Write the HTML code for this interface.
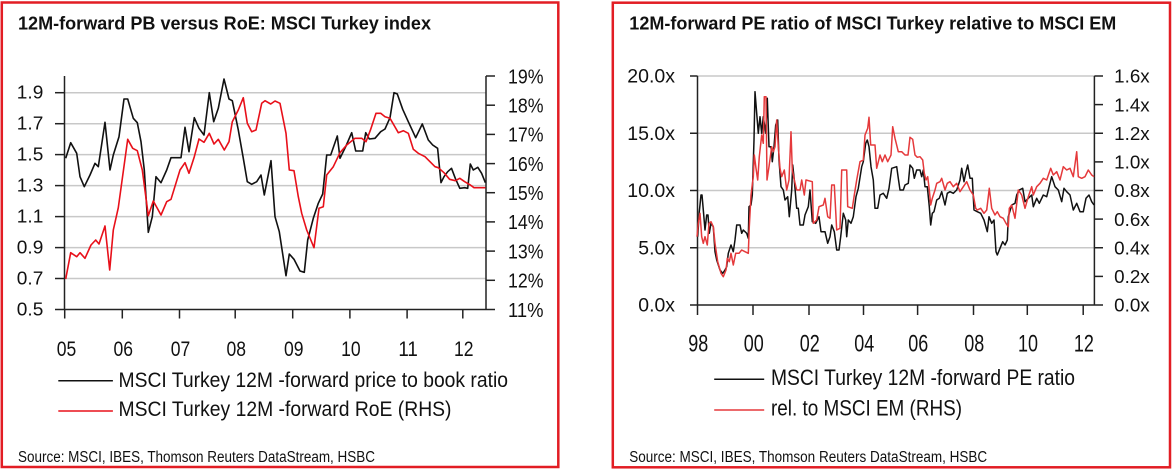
<!DOCTYPE html>
<html><head><meta charset="utf-8"><style>
html,body{margin:0;padding:0;background:#fff;}
svg{display:block;}
text{font-family:"Liberation Sans",Arial,sans-serif;fill:#111;}
</style></head><body>
<svg width="1175" height="473" viewBox="0 0 1175 473" xmlns="http://www.w3.org/2000/svg">
<rect width="1175" height="473" fill="#fff"/>
<!-- LEFT PANEL -->
<rect x="1.8" y="2.5" width="556.5" height="464.5" fill="none" stroke="#e21d24" stroke-width="2.5"/>
<text x="18" y="29.5" font-size="18.5" font-weight="bold" textLength="413" lengthAdjust="spacingAndGlyphs">12M-forward PB versus RoE: MSCI Turkey index</text>
<g stroke="#c8c8c8" stroke-width="1.5">
<line x1="64.5" y1="278.5" x2="486" y2="278.5"/>
<line x1="64.5" y1="247.6" x2="486" y2="247.6"/>
<line x1="64.5" y1="216.6" x2="486" y2="216.6"/>
<line x1="64.5" y1="185.6" x2="486" y2="185.6"/>
<line x1="64.5" y1="154.6" x2="486" y2="154.6"/>
<line x1="64.5" y1="123.7" x2="486" y2="123.7"/>
<line x1="64.5" y1="92.7" x2="486" y2="92.7"/>
</g>
<g stroke="#222" stroke-width="1.5">
<line x1="55" y1="278.5" x2="64.5" y2="278.5"/>
<line x1="55" y1="247.6" x2="64.5" y2="247.6"/>
<line x1="55" y1="216.6" x2="64.5" y2="216.6"/>
<line x1="55" y1="185.6" x2="64.5" y2="185.6"/>
<line x1="55" y1="154.6" x2="64.5" y2="154.6"/>
<line x1="55" y1="123.7" x2="64.5" y2="123.7"/>
<line x1="55" y1="92.7" x2="64.5" y2="92.7"/>
<line x1="64.5" y1="76" x2="64.5" y2="309.5"/>
<line x1="486" y1="76" x2="486" y2="309.5"/>
<line x1="55" y1="309.5" x2="495" y2="309.5"/>
<line x1="486" y1="76" x2="495" y2="76"/>
<line x1="486" y1="105.2" x2="495" y2="105.2"/>
<line x1="486" y1="134.4" x2="495" y2="134.4"/>
<line x1="486" y1="163.6" x2="495" y2="163.6"/>
<line x1="486" y1="192.7" x2="495" y2="192.7"/>
<line x1="486" y1="221.9" x2="495" y2="221.9"/>
<line x1="486" y1="251.1" x2="495" y2="251.1"/>
<line x1="486" y1="280.3" x2="495" y2="280.3"/>
<line x1="64.7" y1="309.5" x2="64.7" y2="318.5"/>
<line x1="122.3" y1="309.5" x2="122.3" y2="318.5"/>
<line x1="179.5" y1="309.5" x2="179.5" y2="318.5"/>
<line x1="235.2" y1="309.5" x2="235.2" y2="318.5"/>
<line x1="292.7" y1="309.5" x2="292.7" y2="318.5"/>
<line x1="349.9" y1="309.5" x2="349.9" y2="318.5"/>
<line x1="407.1" y1="309.5" x2="407.1" y2="318.5"/>
<line x1="462.8" y1="309.5" x2="462.8" y2="318.5"/>
</g>
<g font-size="18" text-anchor="end">
<text x="43.3" y="315.5" textLength="26.5" lengthAdjust="spacingAndGlyphs">0.5</text>
<text x="43.3" y="284.3" textLength="26.5" lengthAdjust="spacingAndGlyphs">0.7</text>
<text x="43.3" y="253.4" textLength="26.5" lengthAdjust="spacingAndGlyphs">0.9</text>
<text x="43.3" y="222.4" textLength="26.5" lengthAdjust="spacingAndGlyphs">1.1</text>
<text x="43.3" y="191.4" textLength="26.5" lengthAdjust="spacingAndGlyphs">1.3</text>
<text x="43.3" y="160.4" textLength="26.5" lengthAdjust="spacingAndGlyphs">1.5</text>
<text x="43.3" y="129.5" textLength="26.5" lengthAdjust="spacingAndGlyphs">1.7</text>
<text x="43.3" y="98.5" textLength="26.5" lengthAdjust="spacingAndGlyphs">1.9</text>
</g>
<g font-size="20">
<text x="508" y="83.3" textLength="35.5" lengthAdjust="spacingAndGlyphs">19%</text>
<text x="508" y="112.5" textLength="35.5" lengthAdjust="spacingAndGlyphs">18%</text>
<text x="508" y="141.7" textLength="35.5" lengthAdjust="spacingAndGlyphs">17%</text>
<text x="508" y="170.9" textLength="35.5" lengthAdjust="spacingAndGlyphs">16%</text>
<text x="508" y="200" textLength="35.5" lengthAdjust="spacingAndGlyphs">15%</text>
<text x="508" y="229.2" textLength="35.5" lengthAdjust="spacingAndGlyphs">14%</text>
<text x="508" y="258.4" textLength="35.5" lengthAdjust="spacingAndGlyphs">13%</text>
<text x="508" y="287.6" textLength="35.5" lengthAdjust="spacingAndGlyphs">12%</text>
<text x="508" y="316.8" textLength="35.5" lengthAdjust="spacingAndGlyphs">11%</text>
</g>
<g font-size="21" text-anchor="middle">
<text x="66.5" y="356" textLength="19.5" lengthAdjust="spacingAndGlyphs">05</text>
<text x="123.3" y="356" textLength="19.5" lengthAdjust="spacingAndGlyphs">06</text>
<text x="180.5" y="356" textLength="19.5" lengthAdjust="spacingAndGlyphs">07</text>
<text x="236.2" y="356" textLength="19.5" lengthAdjust="spacingAndGlyphs">08</text>
<text x="293.7" y="356" textLength="19.5" lengthAdjust="spacingAndGlyphs">09</text>
<text x="350.9" y="356" textLength="19.5" lengthAdjust="spacingAndGlyphs">10</text>
<text x="408.1" y="356" textLength="19.5" lengthAdjust="spacingAndGlyphs">11</text>
<text x="463.8" y="356" textLength="19.5" lengthAdjust="spacingAndGlyphs">12</text>
</g>
<polyline fill="none" stroke="#111" stroke-width="1.6" stroke-linejoin="round" points="65.7,158.3 70.7,142.7 76.7,153.3 80,176.7 84.3,186.7 90,175 95,163.3 98.3,166.7 105,122.3 110,170 113.3,155 119,136.7 124,99 127.7,99 133.3,118.3 137.3,122.7 141,141.7 144.3,170 148.3,232.3 152.3,216.7 156,176.7 161,182.7 166.7,170 171,157.7 181,157.7 185,127.3 189,151.7 194.3,117.7 199,128.3 204,135 209.3,92.7 213.7,121.7 218.3,108.3 224,79 229,99 232.3,100.7 238.3,130 243.3,158.3 247.3,181.7 251.7,184.3 256.7,181.7 261,175 264.3,195 271,160.7 275,216.7 279.3,231.7 286,275.7 289.3,254 294,259.3 300,271 304.3,272.3 307.7,240 313.3,218.3 318.3,203.3 322.7,194 326.7,155 330.7,155 337.3,136 340,158.3 346,146 351.7,132.7 355.7,151 362.7,151 365.7,132.7 369.3,139 375,138.3 380.7,131.7 385,129 390,117.7 394,92.7 397.3,94 402.7,109.3 408.3,121.7 415.7,137.7 422.3,124 428.3,140 432.7,145 437.6,148.3 441,182.7 444,176.7 447.7,171.7 451.5,168.3 455.3,178.3 459.8,188.3 464.7,187.7 467.7,188.3 470.3,164 473.3,170 477.8,167.3 481.6,173.3 485.4,182.7"/>
<polyline fill="none" stroke="#e8101a" stroke-width="1.6" stroke-linejoin="round" points="65.7,279 70.7,252.7 76.7,256.7 80,252.7 85,258.3 91,245 95.7,240 99,244 105,226 109.7,270 113.3,230 118.3,207.7 127.7,139.3 132.7,148.3 137.3,150.7 142.3,170 148.3,215.7 153.3,201 161,215 166.7,201.7 171,199.3 180,170 185,162.7 189,173.3 194.3,156.7 199,139 204,142.3 209.3,133.3 214,144 218.3,139.3 224.3,150 229,141.7 232.3,121.7 238.3,110 243.3,97.7 247.3,123.3 251.7,131.7 256,130 261.7,103.3 265,100.7 270.7,104 275,101 280,103.3 286,133.3 289.3,170 294,170.7 298.3,196.7 301.7,213.3 306.7,230 314,247.7 319,208.3 323.3,206.7 326.7,175 333.3,166.7 340,152.7 346.7,145 355,138.3 361.7,138.3 366,141.7 370.7,129.3 376,113.3 380.7,113.3 385,116.7 390,118.3 398.3,132.7 403.3,130.7 408.3,133.3 413.3,149.3 418.3,153.3 425,156.7 430,161.7 435,166.7 438.3,167.7 444,172.7 449.6,179.3 455.3,180.7 459.8,178.3 464.7,181.7 470.3,185 474,187.7 485.4,187.7"/>
<line x1="58.3" y1="380.7" x2="112.9" y2="380.7" stroke="#111" stroke-width="1.5"/>
<line x1="58.3" y1="411" x2="112.9" y2="411" stroke="#e8101a" stroke-width="1.5"/>
<text x="118.5" y="387" font-size="21" textLength="389.5" lengthAdjust="spacingAndGlyphs">MSCI Turkey  12M -forward price to book ratio</text>
<text x="118.5" y="416" font-size="21" textLength="333" lengthAdjust="spacingAndGlyphs">MSCI Turkey  12M -forward RoE (RHS)</text>
<text x="18" y="462" font-size="15.5" textLength="357" lengthAdjust="spacingAndGlyphs">Source: MSCI, IBES, Thomson Reuters DataStream, HSBC</text>

<!-- RIGHT PANEL -->
<rect x="612.8" y="2.7" width="557.2" height="464.6" fill="none" stroke="#e21d24" stroke-width="2.5"/>
<text x="629.3" y="29.5" font-size="18.5" font-weight="bold" textLength="487" lengthAdjust="spacingAndGlyphs">12M-forward PE ratio of MSCI Turkey relative to MSCI EM</text>
<g stroke="#c8c8c8" stroke-width="1.5">
<line x1="697.5" y1="76" x2="1094.4" y2="76"/>
<line x1="697.5" y1="133.25" x2="1094.4" y2="133.25"/>
<line x1="697.5" y1="190.5" x2="1094.4" y2="190.5"/>
<line x1="697.5" y1="247.75" x2="1094.4" y2="247.75"/>
</g>
<g stroke="#222" stroke-width="1.5">
<line x1="697.5" y1="76" x2="697.5" y2="305"/>
<line x1="1094.4" y1="76" x2="1094.4" y2="305"/>
<line x1="690" y1="305" x2="1103" y2="305"/>
<line x1="690" y1="76" x2="697.5" y2="76"/>
<line x1="690" y1="133.25" x2="697.5" y2="133.25"/>
<line x1="690" y1="190.5" x2="697.5" y2="190.5"/>
<line x1="690" y1="247.75" x2="697.5" y2="247.75"/>
<line x1="1094.4" y1="76" x2="1103" y2="76"/>
<line x1="1094.4" y1="104.6" x2="1103" y2="104.6"/>
<line x1="1094.4" y1="133.25" x2="1103" y2="133.25"/>
<line x1="1094.4" y1="161.9" x2="1103" y2="161.9"/>
<line x1="1094.4" y1="190.5" x2="1103" y2="190.5"/>
<line x1="1094.4" y1="219.1" x2="1103" y2="219.1"/>
<line x1="1094.4" y1="247.75" x2="1103" y2="247.75"/>
<line x1="1094.4" y1="276.4" x2="1103" y2="276.4"/>
<line x1="697.5" y1="305" x2="697.5" y2="315"/>
<line x1="753" y1="305" x2="753" y2="315"/>
<line x1="809" y1="305" x2="809" y2="315"/>
<line x1="863.5" y1="305" x2="863.5" y2="315"/>
<line x1="917.6" y1="305" x2="917.6" y2="315"/>
<line x1="973.5" y1="305" x2="973.5" y2="315"/>
<line x1="1027.3" y1="305" x2="1027.3" y2="315"/>
<line x1="1083.2" y1="305" x2="1083.2" y2="315"/>
</g>
<g font-size="19" text-anchor="end">
<text x="675" y="82.7" textLength="47.7" lengthAdjust="spacingAndGlyphs">20.0x</text>
<text x="675" y="140" textLength="47.7" lengthAdjust="spacingAndGlyphs">15.0x</text>
<text x="675" y="197.2" textLength="47.7" lengthAdjust="spacingAndGlyphs">10.0x</text>
<text x="675" y="254.5" textLength="36.7" lengthAdjust="spacingAndGlyphs">5.0x</text>
<text x="675" y="311.7" textLength="36.7" lengthAdjust="spacingAndGlyphs">0.0x</text>
</g>
<g font-size="18.5">
<text x="1114.2" y="82.7" textLength="35.5" lengthAdjust="spacingAndGlyphs">1.6x</text>
<text x="1114.2" y="111.3" textLength="35.5" lengthAdjust="spacingAndGlyphs">1.4x</text>
<text x="1114.2" y="140" textLength="35.5" lengthAdjust="spacingAndGlyphs">1.2x</text>
<text x="1114.2" y="168.6" textLength="35.5" lengthAdjust="spacingAndGlyphs">1.0x</text>
<text x="1114.2" y="197.2" textLength="35.5" lengthAdjust="spacingAndGlyphs">0.8x</text>
<text x="1114.2" y="225.8" textLength="35.5" lengthAdjust="spacingAndGlyphs">0.6x</text>
<text x="1114.2" y="254.5" textLength="35.5" lengthAdjust="spacingAndGlyphs">0.4x</text>
<text x="1114.2" y="283.1" textLength="35.5" lengthAdjust="spacingAndGlyphs">0.2x</text>
<text x="1114.2" y="311.7" textLength="35.5" lengthAdjust="spacingAndGlyphs">0.0x</text>
</g>
<g font-size="24" text-anchor="middle">
<text x="698.2" y="351.7" textLength="20" lengthAdjust="spacingAndGlyphs">98</text>
<text x="753.7" y="351.7" textLength="20" lengthAdjust="spacingAndGlyphs">00</text>
<text x="809.7" y="351.7" textLength="20" lengthAdjust="spacingAndGlyphs">02</text>
<text x="864.2" y="351.7" textLength="20" lengthAdjust="spacingAndGlyphs">04</text>
<text x="918.3" y="351.7" textLength="20" lengthAdjust="spacingAndGlyphs">06</text>
<text x="974.2" y="351.7" textLength="20" lengthAdjust="spacingAndGlyphs">08</text>
<text x="1028" y="351.7" textLength="20" lengthAdjust="spacingAndGlyphs">10</text>
<text x="1083.9" y="351.7" textLength="20" lengthAdjust="spacingAndGlyphs">12</text>
</g>
<polyline fill="none" stroke="#111" stroke-width="1.5" stroke-linejoin="round" points="697.7,236.7 699.3,211.7 701,195 702,195 703.3,210 705,230 706.7,215 708,215 709.3,233.3 711,223.3 713.3,226.7 715,251.7 716.7,260 720,270 722.7,273.3 725,270 726.7,266.7 728.3,253.3 731,245 733.3,251.7 735,240 736.7,225 740,225 741.7,233.3 743.3,230 746.7,233.3 748.3,238.3 749,206.7 751,205 752.3,195 754,140 755,91.7 756.7,113.3 758.3,133.3 760,116.7 761.7,133.3 763.3,116.7 765.7,133.3 767.3,98.3 769,146.7 771,146.7 772.3,161.7 774,146.7 775.7,125 777.7,120 779,160 781,186.7 783.3,190 785,200 787.7,196.7 789.3,216.7 791.7,190 792.7,165 794.3,180 796.7,208.3 798.3,208.3 800,225 803.3,225 805,215 808.3,206.7 810,190 812.3,221.7 815.7,223.3 819,216.7 821,231.7 825,231.7 827.7,243.3 830,236.7 831.7,225 834.3,231.7 836.7,250 839,250 840.7,236.7 843.3,213.3 845.7,220 846.7,236.7 848.3,220 851,223.3 853.3,216.7 856,196.7 858.3,188.3 861.7,166.7 863.3,161.7 865.7,143.3 867.3,140 869,146.7 871,166.7 873.3,180 875,208.3 877.7,208.3 880,195 883.3,193.3 886.7,198.3 889,188.3 891.7,168.3 896.7,166.7 898.3,178.3 900,190 903.3,190 905,185 908.3,183.3 910,165 912.7,168.3 914.3,178.3 916.7,170 920,170 921.7,176.7 923.3,170 925,186.7 927.3,186.7 929.3,206.7 930.7,225 932.3,213.3 934,211.7 936.7,200 939.3,198.3 941.7,191.7 945,205 947.3,193.3 950,191.7 953.3,193.3 956.7,190 960,180 961.7,168.3 964,181.7 966,171.7 967.7,165 970,178.3 972.3,178.3 974,210 977.3,211.7 980.7,213.3 984,220 987.3,231.7 989,216.7 991.7,223.3 994,220 996,251.7 997.3,255 1000,248.3 1002.7,241.7 1005,245 1007.3,240 1008.3,216.7 1011.7,205 1015,203.3 1016.7,195 1019.3,190 1022.7,188.3 1025,201.7 1028.3,198.3 1031.7,195 1033.3,206.7 1036.7,198.3 1039.3,203.3 1043.3,195 1046.7,196.7 1050,183.3 1051.7,176.7 1055,186.7 1058.3,190 1061.7,201.7 1064,188.3 1066.7,191.7 1070,195 1073.3,210 1076.7,203.3 1080,211.7 1083.3,211.7 1086,198.3 1089,195 1091.7,201.7 1094,205"/>
<polyline fill="none" stroke="#e5393b" stroke-width="1.5" stroke-linejoin="round" points="697,236.7 698.3,223.3 700,213.3 701.7,236.7 703.3,243.3 705,236.7 707.3,245 709,223.3 711,221.7 713.3,226.7 715,243.3 717.7,261.7 721,273.3 723.3,276.7 726,270 727.3,258.3 729.3,261.7 731,253.3 733.3,265 735.7,253.3 739,253.3 741.7,250 745,251.7 748.3,253.3 749.3,226.7 751,195 753.3,176.7 754.3,155 756,168.3 757.7,180 759.3,156.7 761.7,135 763.3,143.3 764.3,96.7 766,96.7 767,180 769,166.7 771.7,146.7 773.3,151.7 775,146.7 776.7,120 778.3,146.7 780,168.3 781.7,176.7 784.3,170 786.7,190 789,180 791,131.7 792.3,170 794.3,180 796.7,190 800,190 801.7,180 804.3,195 806,180 812.3,181.7 813.3,223.3 816.7,220 819,206.7 823.3,205 825,198.3 827.7,216.7 830,218.3 831.7,185 834.3,185 836.7,230 840,228.3 841.7,170 846.7,170 847.7,206.7 852.3,208.3 854.3,195 856.7,180 860,161.7 863.3,160 865,135 867.7,128.3 869,117.3 870.7,145 875,145 876.7,168.3 880,155 882.3,161.7 885,155 887.7,161.7 891,155 892.7,126.7 895,138.3 898.3,151.7 901.7,151.7 905,155 908,155 910,137.3 912.7,139.3 915,155 917.3,157.3 920,156.7 922.7,160 924.3,173.3 926,180 927.7,176.7 929.3,190 930.7,205 932.3,198.3 935,190 936.7,183.3 940,181.7 941.7,178.3 945,190 947.3,183.3 950,181.7 953.3,186.7 956.7,183.3 960,191.7 963.3,186.7 966.7,181.7 970,190 973.3,195 975.7,208.3 977.3,210 980.7,208.3 984,213.3 986.7,210 989.3,188.3 991.7,208.3 995,215 997.3,211.7 1000,216.7 1003.3,218.3 1006,223.3 1008.3,226.7 1009.3,208.3 1011.7,205 1015,218.3 1018.3,190 1021.7,195 1025,208.3 1028.3,196.7 1031.7,186.7 1033.3,195 1036.7,186.7 1040,183.3 1043.3,178.3 1046.7,180 1050.7,168.3 1053.3,175 1056.7,171.7 1060,180 1063.3,166.7 1066.7,170 1070,168.3 1073.3,176.7 1076.7,151.7 1078.3,176.7 1081.7,178.3 1085,176.7 1088.3,170 1091.7,175 1094,176.7"/>
<line x1="714.2" y1="379.3" x2="764.2" y2="379.3" stroke="#111" stroke-width="1.5"/>
<line x1="714.2" y1="410" x2="764.2" y2="410" stroke="#e5393b" stroke-width="1.5"/>
<text x="771" y="385" font-size="22.5" textLength="304" lengthAdjust="spacingAndGlyphs">MSCI Turkey  12M -forward PE ratio</text>
<text x="771" y="415.5" font-size="22.5" textLength="191" lengthAdjust="spacingAndGlyphs">rel. to MSCI EM (RHS)</text>
<text x="629.2" y="462" font-size="15.5" textLength="358" lengthAdjust="spacingAndGlyphs">Source: MSCI, IBES, Thomson Reuters DataStream, HSBC</text>
</svg>
</body></html>
